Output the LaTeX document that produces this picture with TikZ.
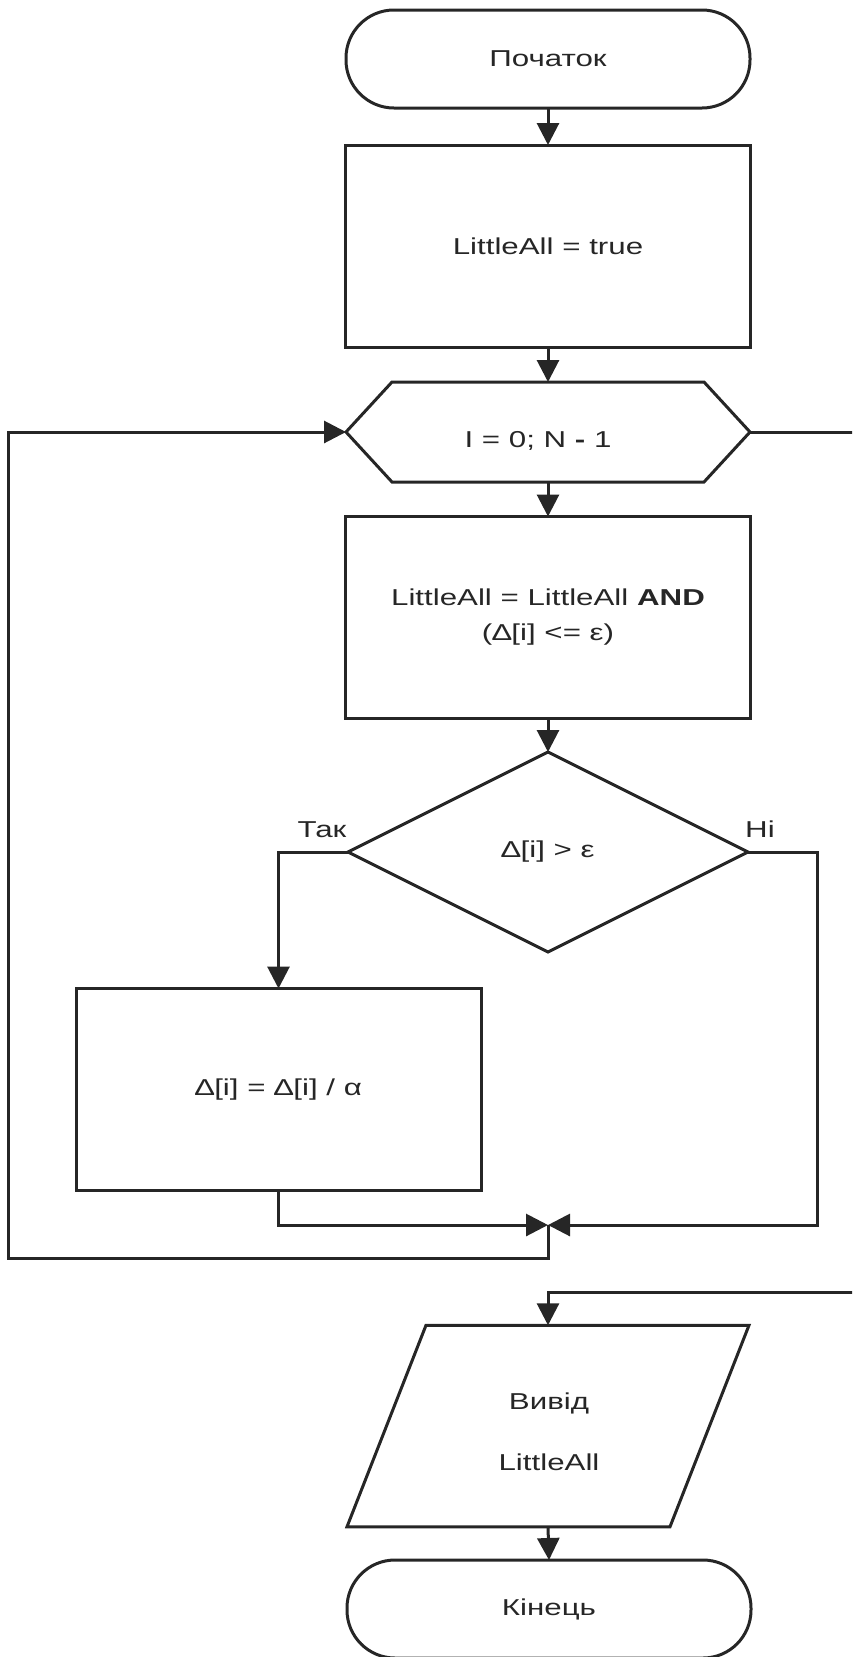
\documentclass[tikz,border=0pt]{standalone}
\usepackage{fontspec}
\setmainfont{Liberation Sans}[FakeStretch=1.36]
\usetikzlibrary{arrows.meta,shapes.geometric,calc}
\definecolor{ink}{RGB}{38,38,38}
\begin{document}
\begin{tikzpicture}[x=1pt,y=-1pt,color=ink,line width=3pt,
  every node/.style={font=\fontsize{23}{28}\selectfont,text=ink,outer sep=0pt,inner sep=0pt},
  term/.style={draw,rectangle,rounded corners=48pt,minimum width=404pt,minimum height=98pt},
  proc/.style={draw,rectangle,minimum width=405pt,minimum height=202pt},
  dec/.style={draw,diamond,minimum width=400pt,minimum height=200pt},
  frame/.style={rectangle,minimum width=404pt},
  arr/.style={-{Triangle[length=22pt,width=22pt]}}]
\useasboundingbox (0,0) rectangle (852,1657);
\clip (0,0) rectangle (852,1657);
% nodes
\node[term] (start) at (548,59) {Початок};
\node[proc] (init) at (548,246) {LittleAll = true};
\node[frame,minimum height=100pt] (loop) at (548,432) {};
\draw (loop.west) -- ([xshift=46pt]loop.north west) -- ([xshift=-46pt]loop.north east)
  -- (loop.east) -- ([xshift=-46pt]loop.south east) -- ([xshift=46pt]loop.south west) -- cycle;
\node (looptext) at (538,441) {I = 0; N {\bfseries -} 1};
\node[proc,align=center] (body) at (548,617.5) {LittleAll = LittleAll \textbf{AND}\\[7pt](∆[i] <= ε)};
\node[dec] (cond) at (548,852) {∆[i] > ε};
\node (yes) at (322,830) {Так};
\node (no) at (760,829) {Ні};
\node[proc] (upd) at (278.5,1089.5) {∆[i] = ∆[i] / α};
\node[rectangle,minimum width=402pt,minimum height=201.5pt] (out) at (548,1426) {};
\draw ([xshift=79pt]out.north west) -- (out.north east) -- ([xshift=-79pt]out.south east)
  -- (out.south west) -- cycle;
\node[align=center] (outtext) at (549,1432) {Вивід\\[33pt]LittleAll};
\node[term] (stop) at (549,1609) {Кінець};
% coordinates
\coordinate (j) at (548,1225);
\coordinate (rx) at (817,1225);
\coordinate (jb) at (548,1258);
\coordinate (lb) at (8,1258);
\coordinate (lt) at (8,432);
\coordinate (ex1) at (870,432);
\coordinate (ex2) at (870,1292);
% connectors
\draw[arr] (start.south) -- (init.north);
\draw[arr] (init.south) -- (loop.north);
\draw[arr] (loop.south) -- (body.north);
\draw[arr] (body.south) -- (cond.north);
\draw[arr] (cond.west) -| (upd.north);
\draw[arr] (upd.south) |- (j);
\draw[arr] (cond.east) -| (rx) -- (j);
\draw[arr] (j) -- (jb) -- (lb) -- (lt) -- (loop.west);
\draw (loop.east) -- (ex1);
\draw[arr] (ex2) -| (out.north);
\draw[arr] (out.south) -- (stop.north);
\end{tikzpicture}
\end{document}
